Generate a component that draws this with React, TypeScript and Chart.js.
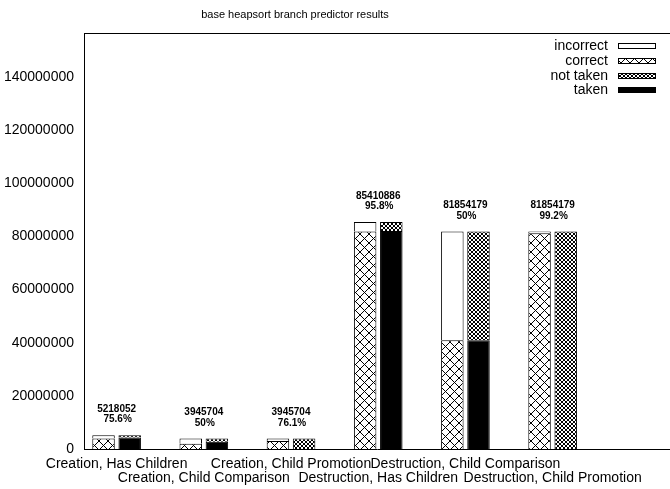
import React, { useEffect, useRef } from "react";
import { Chart, registerables } from "chart.js";

Chart.register(...registerables);

const categories = [
  "Creation, Has Children",
  "Creation, Child Comparison",
  "Creation, Child Promotion",
  "Destruction, Has Children",
  "Destruction, Child Comparison",
  "Destruction, Child Promotion",
  "",
];
const totals = [5218052, 3945704, 3945704, 85410886, 81854179, 81854179, 0];
const pctLabels = ["75.6%", "50%", "76.1%", "95.8%", "50%", "99.2%", ""];
const correct = [3944847, 1972852, 3002681, 81823629, 40927090, 81199346, 0];
const incorrect = [1273205, 1972852, 943023, 3587257, 40927089, 654833, 0];
const taken = [4318052, 2700000, 0, 82000000, 40927090, 0, 0];
const notTaken = [900000, 1245704, 3945704, 3410886, 40927089, 81854179, 0];
const yTicks = [0, 20000000, 40000000, 60000000, 80000000, 100000000, 120000000, 140000000];
const xTicks = [0, 1, 2, 3, 4, 5, 6];
const yMax = 156500000;

const FONT = "'Liberation Sans', Arial, Helvetica, sans-serif";

function makePattern(size: number): CanvasPattern | string {
  const c = document.createElement("canvas");
  c.width = size;
  c.height = size;
  const g = c.getContext("2d");
  if (!g) return "#888";
  g.fillStyle = "#fff";
  g.fillRect(0, 0, size, size);
  g.strokeStyle = "#000";
  g.lineWidth = 1;
  g.beginPath();
  g.moveTo(0, 0);
  g.lineTo(size, size);
  g.moveTo(size, 0);
  g.lineTo(0, size);
  g.stroke();
  const p = g.createPattern(c, "repeat");
  return p || "#888";
}

export default function App() {
  const ref = useRef<HTMLCanvasElement | null>(null);
  useEffect(() => {
    if (!ref.current) return;
    const crossBig = makePattern(9);
    const crossFine = makePattern(4);
    const toPts = (arr: number[]) => arr.map((v, i) => ({ x: i, y: v }));

    const legendItems = [
      { label: "incorrect", fill: "#fff" as any },
      { label: "correct", fill: crossBig as any },
      { label: "not taken", fill: crossFine as any },
      { label: "taken", fill: "#000" as any },
    ];

    const framePlugin = {
      id: "frame",
      afterDatasetsDraw(chart: any) {
        const { ctx, chartArea, scales } = chart;
        ctx.save();
        ctx.strokeStyle = "#000";
        ctx.lineWidth = 1;
        ctx.beginPath();
        ctx.moveTo(chartArea.left, Math.round(chartArea.top) + 0.5);
        ctx.lineTo(chartArea.right, Math.round(chartArea.top) + 0.5);
        ctx.stroke();
        ctx.fillStyle = "#000";
        ctx.font = `11px ${FONT}`;
        ctx.textAlign = "center";
        ctx.textBaseline = "middle";
        ctx.fillText("base heapsort branch predictor results", 295, 15);
        ctx.font = `bold 10px ${FONT}`;
        for (let i = 0; i < totals.length; i++) {
          if (!pctLabels[i]) continue;
          const x = scales.x.getPixelForValue(i);
          const y = scales.y.getPixelForValue(totals[i]);
          ctx.fillText(String(totals[i]), x, y - 26);
          ctx.fillText(pctLabels[i], x + 1, y - 15.5);
        }
        ctx.font = `14px ${FONT}`;
        ctx.textAlign = "right";
        const rows = [46, 61, 76, 90];
        legendItems.forEach((it, k) => {
          const y = rows[k];
          ctx.fillStyle = "#000";
          ctx.fillText(it.label, 608, y);
          ctx.fillStyle = it.fill;
          ctx.fillRect(618, y - 3, 38, 6);
          ctx.strokeStyle = "#000";
          ctx.lineWidth = 1;
          ctx.strokeRect(618.5, y - 2.5, 37, 5);
        });
        ctx.restore();
      },
    };

    const chart = new Chart(ref.current, {
      type: "bar",
      data: {
        datasets: [
          {
            label: "correct",
            data: toPts(correct),
            stack: "a",
            backgroundColor: crossBig as any,
            borderColor: "#000",
            borderWidth: 1,
          },
          {
            label: "incorrect",
            data: toPts(incorrect),
            stack: "a",
            backgroundColor: "#fff",
            borderColor: "#000",
            borderWidth: 1,
          },
          {
            label: "taken",
            data: toPts(taken),
            stack: "b",
            backgroundColor: "#000",
            borderColor: "#000",
            borderWidth: 1,
          },
          {
            label: "not taken",
            data: toPts(notTaken),
            stack: "b",
            backgroundColor: crossFine as any,
            borderColor: "#000",
            borderWidth: 1,
          },
        ],
      },
      options: {
        responsive: false,
        animation: false,
        events: [],
        categoryPercentage: 0.6,
        barPercentage: 0.86,
        layout: { padding: { top: 33, right: 0, left: 0, bottom: 0 } },
        plugins: {
          legend: { display: false },
          title: { display: false },
          tooltip: { enabled: false },
        },
        scales: {
          x: {
            type: "linear",
            stacked: true,
            min: -0.374,
            max: 6.346,
            offset: false,
            grid: { display: false, drawTicks: false },
            border: { display: true, color: "#000", width: 1 },
            afterFit: (s: any) => {
              s.height = 40;
            },
            afterBuildTicks: (s: any) => {
              s.ticks = xTicks.map((v) => ({ value: v }));
            },
            ticks: {
              autoSkip: false,
              maxRotation: 0,
              minRotation: 0,
              padding: 8,
              color: "#000",
              font: { family: FONT, size: 14, lineHeight: 1.0 },
              callback: (v: any) => {
                const n = Number(v);
                if (!Number.isInteger(n) || n < 0 || n >= categories.length) return "";
                const lab = categories[n];
                if (!lab) return "";
                return n % 2 === 0 ? [lab, ""] : ["", lab];
              },
            },
          } as any,
          y: {
            type: "linear",
            stacked: true,
            min: 0,
            max: yMax,
            grid: { display: false, drawTicks: false },
            border: { display: true, color: "#000", width: 1 },
            afterFit: (s: any) => {
              s.width = 84;
            },
            afterBuildTicks: (s: any) => {
              s.ticks = yTicks.map((v) => ({ value: v }));
            },
            ticks: {
              padding: 10,
              color: "#000",
              font: { family: FONT, size: 14 },
              callback: (v: any) => String(v),
            },
          } as any,
        },
      },
      plugins: [framePlugin],
    });
    return () => chart.destroy();
  }, []);

  return (
    <div style={{ position: "absolute", left: 0, top: 0, width: 670, height: 489, background: "#fff" }}>
      <canvas ref={ref} width={670} height={489} style={{ display: "block" }} />
    </div>
  );
}
